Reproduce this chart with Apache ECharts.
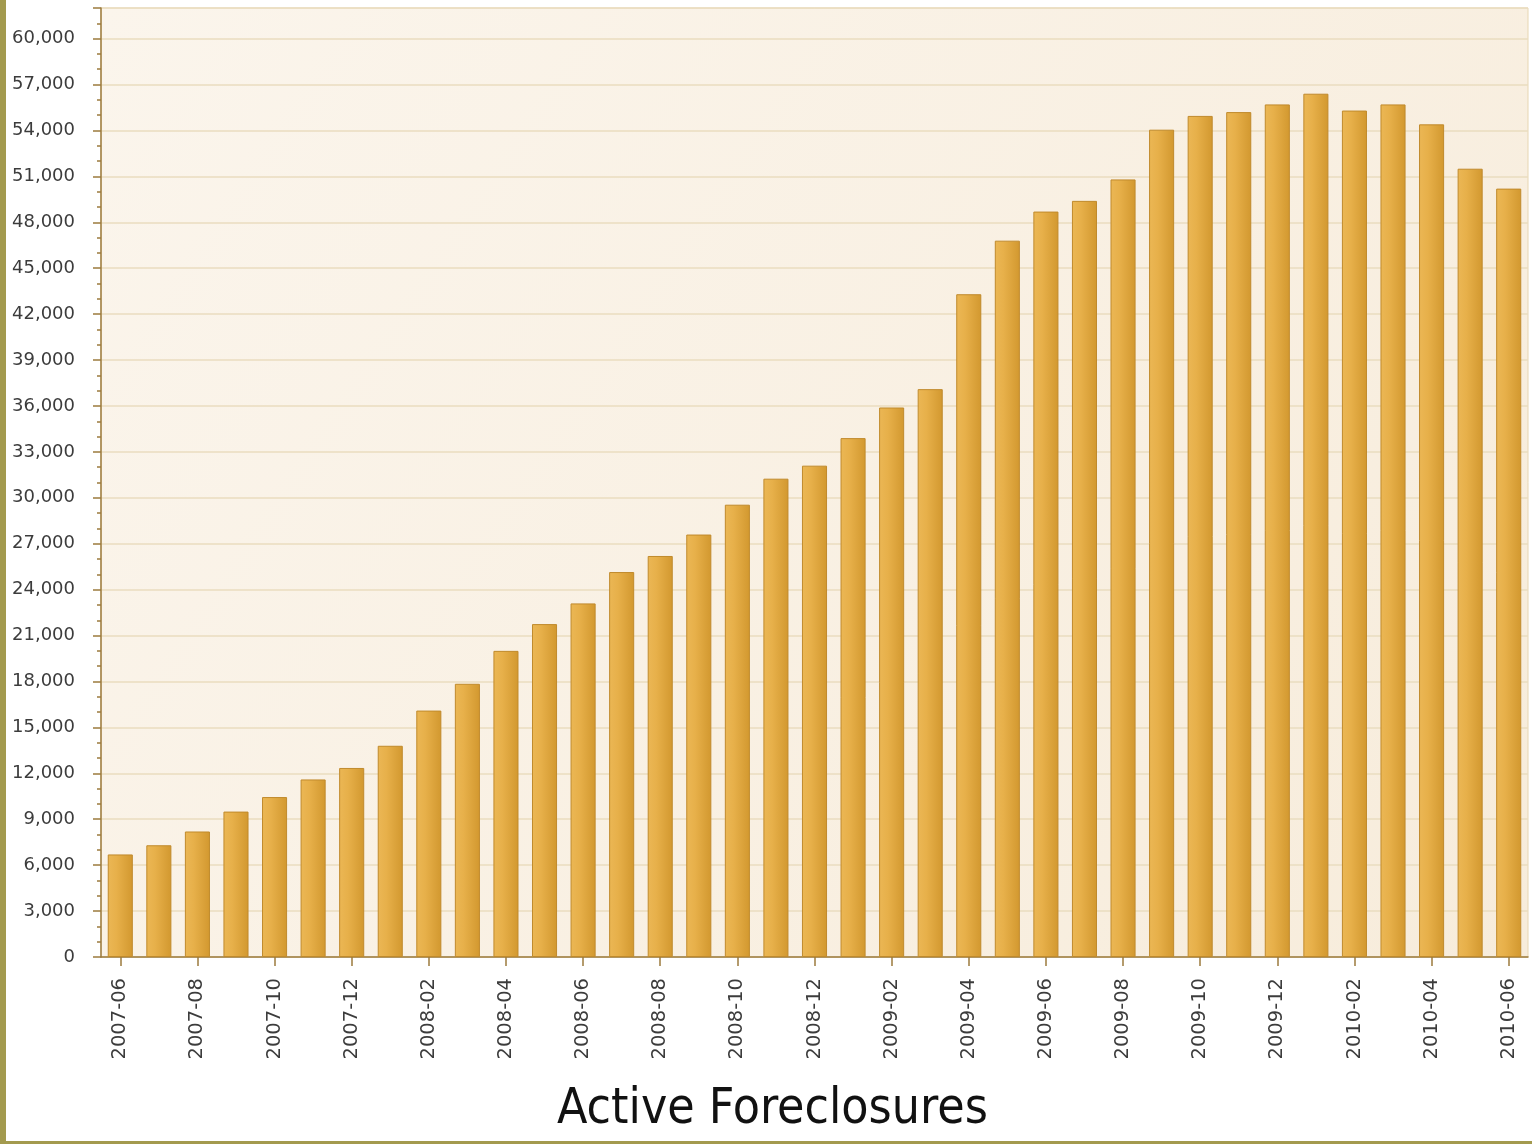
<!DOCTYPE html>
<html>
<head>
<meta charset="utf-8">
<script src="https://cdn.jsdelivr.net/npm/echarts@6/dist/echarts.min.js"></script>
<style>
html,body{margin:0;padding:0;background:#fff;}
#chart{width:1532px;height:1144px;}
</style>
</head>
<body>
<div id="chart"></div>
<script>
const categories = [
  '2007-06','2007-07','2007-08','2007-09','2007-10','2007-11','2007-12',
  '2008-01','2008-02','2008-03','2008-04','2008-05','2008-06','2008-07','2008-08','2008-09','2008-10','2008-11','2008-12',
  '2009-01','2009-02','2009-03','2009-04','2009-05','2009-06','2009-07','2009-08','2009-09','2009-10','2009-11','2009-12',
  '2010-01','2010-02','2010-03','2010-04','2010-05','2010-06'
];
const activeForeclosures = [
  6700, 7300, 8200, 9500, 10450, 11600, 12350,
  13800, 16100, 17850, 20000, 21750, 23100, 25150, 26200, 27600, 29550, 31250, 32100,
  33900, 35900, 37100, 43300, 46800, 48700, 49400, 50800, 54050, 54950, 55200, 55700,
  56400, 55300, 55700, 54400, 51500, 50200
];
const yMin = 0, yMax = 62000, yInterval = 3000;
const titleText = 'Active Foreclosures';

const chart = echarts.init(document.getElementById('chart'), null, {renderer: 'canvas'});
const fontFam = '"DejaVu Sans", Verdana, sans-serif';
chart.setOption({
  animation: false,
  backgroundColor: '#ffffff',
  title: {
    text: titleText,
    left: 552,
    top: 1080,
    textStyle: {
      fontFamily: '"DejaVu Sans Condensed", "DejaVu Sans", sans-serif',
      fontWeight: 'normal',
      fontSize: 49.5,
      color: '#111'
    }
  },
  grid: {
    left: 101, right: 4, top: 8, bottom: 187,
    show: true,
    borderColor: '#e7d6b2',
    borderWidth: 1,
    backgroundColor: new echarts.graphic.LinearGradient(0, 0, 1, 1, [
      {offset: 0, color: '#fbf5ec'},
      {offset: 1, color: '#f7ecdb'}
    ])
  },
  xAxis: {
    type: 'category',
    data: categories,
    axisLine: {lineStyle: {color: '#9c7b3e', width: 1.5}},
    axisTick: {show: true, interval: 1, alignWithLabel: true, length: 9, lineStyle: {color: '#9c7b3e', width: 1.5}},
    axisLabel: {
      interval: 1, rotate: 90, margin: 21,
      fontFamily: fontFam, fontSize: 19.5, color: '#3c3c3c'
    },
    splitLine: {show: false}
  },
  yAxis: {
    type: 'value',
    min: yMin, max: yMax, interval: yInterval,
    axisLine: {show: true, lineStyle: {color: '#9c7b3e', width: 1.5}},
    axisTick: {show: true, length: 8, lineStyle: {color: '#9c7b3e', width: 1.5}},
    minorTick: {show: true, splitNumber: 3, length: 4, lineStyle: {color: '#9c7b3e', width: 1.5}},
    axisLabel: {
      margin: 26, showMaxLabel: false,
      fontFamily: fontFam, fontSize: 18, color: '#3c3c3c',
      formatter: v => v.toLocaleString('en-US')
    },
    splitLine: {show: true, lineStyle: {color: '#eadcbf', width: 1.5}}
  },
  series: [{
    type: 'bar',
    data: activeForeclosures,
    barWidth: '65%',
    itemStyle: {
      color: new echarts.graphic.LinearGradient(0, 0, 1, 0, [
        {offset: 0, color: '#ebb755'},
        {offset: 0.35, color: '#e7b04a'},
        {offset: 1, color: '#d2982f'}
      ]),
      borderColor: '#c08a2c',
      borderWidth: 1
    }
  }],
  graphic: [
    {type: 'rect', left: 0, top: 0, shape: {width: 6, height: 1144}, style: {fill: '#a39a4e'}, z: 100},
    {type: 'rect', left: 0, top: 1141, shape: {width: 1532, height: 3}, style: {fill: '#a39a4e'}, z: 100}
  ]
});
</script>
</body>
</html>
